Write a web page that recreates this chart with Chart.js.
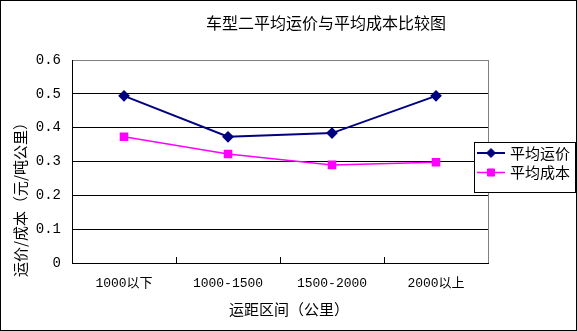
<!DOCTYPE html>
<html>
<head>
<meta charset="utf-8">
<script src="https://cdn.jsdelivr.net/npm/chart.js@4.4.1/dist/chart.umd.min.js"></script>
<style>
  html, body { margin: 0; padding: 0; background: #fff; }
  #chart { display: block; }
</style>
</head>
<body>
<canvas id="chart" width="577" height="331"></canvas>
<script>
// titles
const chartTitle = '车型二平均运价与平均成本比较图';
const xTitle = '运距区间（公里）';
const yTitle = '运价/成本（元/吨公里）';

// data
const categories = ['1000以下', '1000-1500', '1500-2000', '2000以上'];
const avgPrice = [0.494, 0.373, 0.384, 0.494];
const avgCost = [0.373, 0.322, 0.290, 0.298];
const yTicks = ['0', '0.1', '0.2', '0.3', '0.4', '0.5', '0.6'];

const CJK = '"Noto Sans CJK SC", sans-serif';
const MONO = '"Liberation Mono", "Noto Sans CJK SC", monospace';

// frame, titles, inner tick marks and the boxed legend
const decor = {
  id: 'decor',
  afterDraw(chart) {
    const { ctx, chartArea: a, scales: { x } } = chart;
    ctx.save();

    // outer frame
    ctx.strokeStyle = '#000';
    ctx.lineWidth = 1;
    ctx.strokeRect(0.5, 0.5, chart.width - 1, chart.height - 1);

    // plot area right edge
    ctx.strokeStyle = '#808080';
    ctx.beginPath();
    ctx.moveTo(a.right + 0.5, a.top);
    ctx.lineTo(a.right + 0.5, a.bottom);
    ctx.stroke();

    // tick marks between categories, pointing up
    ctx.strokeStyle = '#000';
    ctx.beginPath();
    for (let i = 1; i < categories.length; i++) {
      const px = Math.round((x.getPixelForValue(i - 1) + x.getPixelForValue(i)) / 2) + 0.5;
      ctx.moveTo(px, a.bottom);
      ctx.lineTo(px, a.bottom - 6);
    }
    ctx.stroke();

    // titles
    ctx.fillStyle = '#000';
    ctx.textAlign = 'center';
    ctx.textBaseline = 'middle';
    ctx.font = '16px ' + CJK;
    ctx.fillText(chartTitle, 326, 23);
    ctx.font = '15px ' + CJK;
    ctx.fillText(xTitle, 289, 309);
    ctx.save();
    ctx.translate(20, 196);
    ctx.rotate(-Math.PI / 2);
    ctx.fillText(yTitle, 0, 0);
    ctx.restore();

    // legend
    ctx.fillStyle = '#fff';
    ctx.fillRect(474.5, 142.5, 101, 50);
    ctx.strokeStyle = '#000';
    ctx.strokeRect(474.5, 142.5, 101, 50);
    chart.data.datasets.forEach((ds, i) => {
      const ly = 153 + i * 19.5;
      ctx.strokeStyle = ds.borderColor;
      ctx.lineWidth = ds.borderWidth;
      ctx.beginPath();
      ctx.moveTo(477, ly);
      ctx.lineTo(505, ly);
      ctx.stroke();
      ctx.fillStyle = ds.backgroundColor;
      ctx.lineWidth = 1;
      Chart.helpers.drawPoint(ctx, { pointStyle: ds.pointStyle, radius: ds.pointRadius, rotation: 0, borderWidth: 1 }, 491, ly);
      ctx.fillStyle = '#000';
      ctx.textAlign = 'left';
      ctx.font = '15px ' + CJK;
      ctx.fillText(ds.label, 510, ly);
    });

    ctx.restore();
  }
};

new Chart(document.getElementById('chart'), {
  type: 'line',
  data: {
    labels: categories,
    datasets: [
      {
        label: '平均运价',
        data: avgPrice,
        borderColor: '#000080',
        backgroundColor: '#000080',
        borderWidth: 2,
        pointStyle: 'rectRot',
        pointRadius: 4.5,
        tension: 0
      },
      {
        label: '平均成本',
        data: avgCost,
        borderColor: '#ff00ff',
        backgroundColor: '#ff00ff',
        borderWidth: 1.5,
        pointStyle: 'rect',
        pointRadius: 5,
        tension: 0
      }
    ]
  },
  options: {
    responsive: false,
    animation: false,
    devicePixelRatio: 1,
    layout: { padding: { left: 0, top: 60, right: 89, bottom: 0 } },
    plugins: {
      legend: { display: false },
      title: { display: false },
      tooltip: { enabled: false }
    },
    scales: {
      x: {
        offset: true,
        grid: { display: false, drawTicks: false },
        border: { color: '#000', width: 1 },
        ticks: { font: { family: MONO, size: 13 }, color: '#000', padding: 13, maxRotation: 0, autoSkip: false },
        afterFit(s) { s.height = 68; }
      },
      y: {
        min: 0,
        max: 0.6,
        ticks: {
          stepSize: 0.1,
          callback: (v, i) => yTicks[i],
          font: { family: MONO, size: 14 },
          color: '#000',
          padding: 11
        },
        grid: {
          color: c => (c.tick && c.tick.value >= 0.6 ? '#808080' : '#000'),
          drawTicks: false
        },
        border: { color: '#000', width: 1 },
        afterFit(s) { s.width = 72; }
      }
    }
  },
  plugins: [decor]
});
</script>
</body>
</html>
